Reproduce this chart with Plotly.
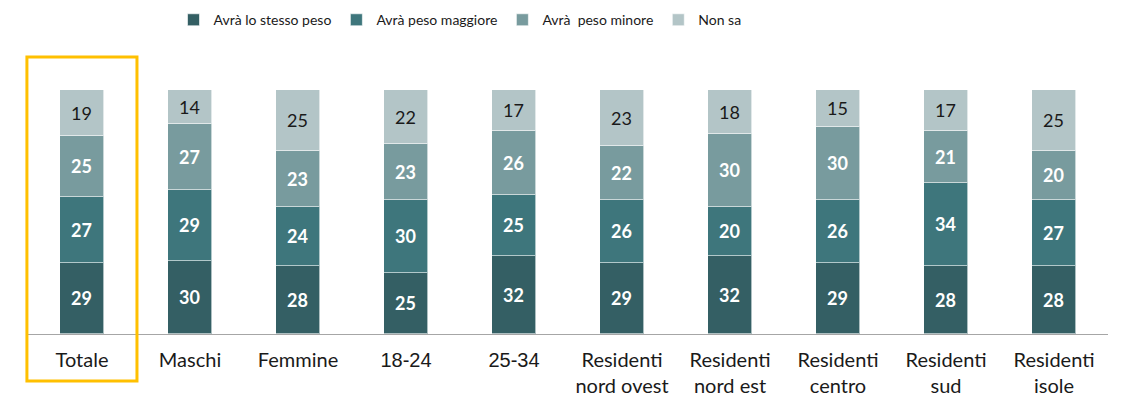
import plotly.graph_objects as go

NUM_FONT = "font-family:Liberation Sans;font-size:20px"

categories = ["Totale", "Maschi", "Femmine",
              f"<span style='{NUM_FONT}'>18-24</span>",
              f"<span style='{NUM_FONT}'>25-34</span>",
              "Residenti<br>nord ovest", "Residenti<br>nord est",
              "Residenti<br>centro", "Residenti<br>sud", "Residenti<br>isole"]

stesso_peso = [29, 30, 28, 25, 32, 29, 32, 29, 28, 28]
peso_maggiore = [27, 29, 24, 30, 25, 26, 20, 26, 34, 27]
peso_minore = [25, 27, 23, 23, 26, 22, 30, 30, 21, 20]
non_sa = [19, 14, 25, 22, 17, 23, 18, 15, 17, 25]

series = [
    ("Avrà lo stesso peso", stesso_peso, "#345F64", "white", "bold"),
    ("Avrà peso maggiore", peso_maggiore, "#3E767C", "white", "bold"),
    ("Avrà  peso minore", peso_minore, "#789B9E", "white", "bold"),
    ("Non sa", non_sa, "#B3C5C7", "#1a1a1a", "normal"),
]

FONT = "Lato, Calibri, Carlito, sans-serif"
x = list(range(len(categories)))

fig = go.Figure()
for name, vals, color, tcolor, weight in series:
    fig.add_trace(go.Bar(
        name=name, x=x, y=vals, width=0.41,
        marker=dict(color=color, line=dict(color="rgba(255,255,255,0.6)", width=1)),
        text=[str(v) for v in vals], textposition="inside",
        insidetextanchor="middle", textangle=0, constraintext="none",
        textfont=dict(family=FONT, size=18, color=tcolor, weight=weight),
    ))

# highlight frame around the "Totale" column
fig.add_shape(type="rect", xref="paper", yref="paper",
              x0=-0.001, x1=0.1009, y0=-0.1655, y1=0.975,
              line=dict(color="#FFC000", width=3), fillcolor="rgba(0,0,0,0)")

fig.update_layout(
    width=1125, height=399,
    margin=dict(l=28, r=17, t=50, b=65, autoexpand=False),
    barmode="stack",
    plot_bgcolor="white", paper_bgcolor="white",
    font=dict(family=FONT, size=20, color="#1a1a1a"),
    showlegend=True,
    legend=dict(orientation="h", x=0.4, xanchor="center", y=1.105, yanchor="middle",
                font=dict(family=FONT, size=14, color="#1a1a1a"),
                traceorder="normal", itemwidth=30, tracegroupgap=0),
    xaxis=dict(tickmode="array", tickvals=x, ticktext=categories,
               range=[-0.5, 9.5], showline=True, linecolor="#A6A6A6", linewidth=1,
               ticks="", showgrid=False, zeroline=False, ticklabelstandoff=8,
               tickfont=dict(family=FONT, size=20, color="#1a1a1a")),
    yaxis=dict(range=[0, 116.4], visible=False, showgrid=False, zeroline=False),
    bargap=0,
)

fig.write_html("out.html")
